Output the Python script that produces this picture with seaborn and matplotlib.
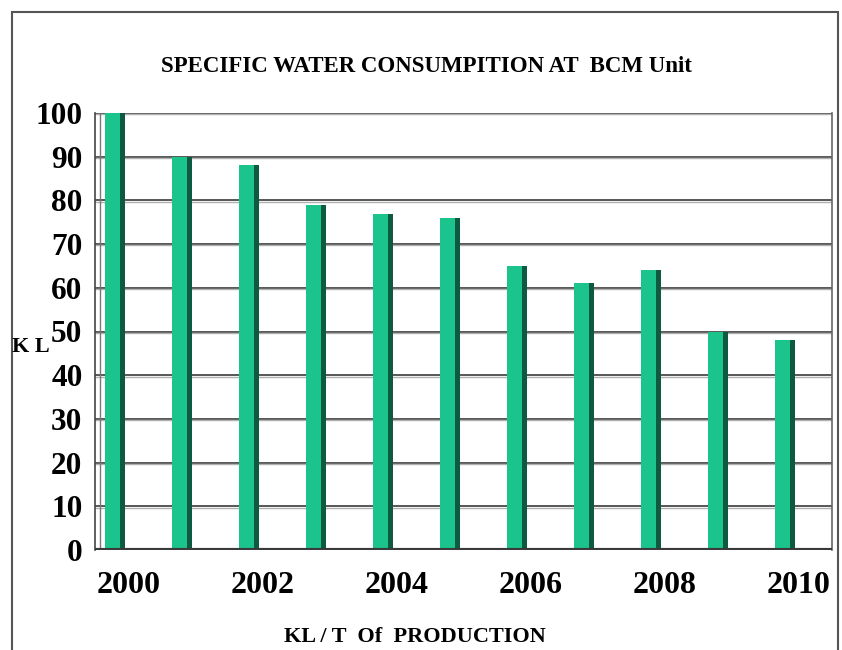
# Specific water consumption at BCM unit - bar chart in old Excel 3D style
import numpy as np
import pandas as pd
import matplotlib
matplotlib.use("Agg")
import matplotlib.pyplot as plt
from matplotlib.patches import Rectangle
import seaborn as sns

# data
years = ["2000", "2001", "2002", "2003", "2004", "2005",
         "2006", "2007", "2008", "2009", "2010"]
consumption = [100, 90, 88, 79, 77, 76, 65, 61, 64, 50, 48]
yticks = list(range(0, 101, 10))

df = pd.DataFrame({"year": years, "kl": consumption})

sns.set_style("white")
plt.rcParams['font.family'] = ['Liberation Serif', 'DejaVu Serif']
plt.rcParams['font.weight'] = 'bold'
plt.rcParams['text.color'] = 'black'

face = "#1cc48d"
side = "#0d5a40"

fig = plt.figure(figsize=(8.42, 6.5), dpi=100)
ax = fig.add_axes([95/842, 100/650, (832-95)/842, 437/650])

# dark side of the "3D" bars, then the lighter front face
sns.barplot(data=df, x="year", y="kl", order=years, color=side,
            width=0.30, saturation=1, linewidth=0, ax=ax)
n = len(ax.patches)
sns.barplot(data=df, x="year", y="kl", order=years, color=face,
            width=0.225, saturation=1, linewidth=0, ax=ax)
for p in ax.patches[n:]:
    p.set_x(p.get_x() - (0.30 - 0.225) / 2)
    p.set_zorder(3)
for p in ax.patches[:n]:
    p.set_zorder(3)

ax.set_xlim(-0.3, 10.7)
ax.set_ylim(0, 100)

# grid lines
for v in yticks[1:]:
    ax.axhline(v, color="#4a4a4a", lw=1.3, zorder=1)
    ax.axhline(v - 0.3, color="#b0b0b0", lw=1.0, zorder=1)
# floor
ax.axhline(0, color="#3a3a3a", lw=3, zorder=4)

ax.spines["top"].set_visible(False)
ax.spines["right"].set_color("#666666")
ax.spines["right"].set_linewidth(1.2)
ax.spines["left"].set_color("#444444")
ax.spines["left"].set_linewidth(1.2)
ax.spines["bottom"].set_visible(False)
ax.axvline(-0.3 + 0.07, color="#777777", lw=1.0, zorder=2)

ax.set_yticks(yticks)
ax.set_yticklabels([str(v) for v in yticks], fontsize=22.5, fontweight="bold")
ax.tick_params(axis="y", direction="out", length=7, width=1.2, color="#333333",
               labelcolor="black", pad=2)

major = [i + 0.2 for i in range(0, len(years), 2)]
ax.set_xticks(major)
ax.set_xticklabels(years[::2], fontsize=23, fontweight="bold")
ax.set_xticks([i - 0.3 for i in range(len(years) + 1)], minor=True)
ax.tick_params(axis="x", which="major", length=0, pad=15, labelcolor="black")
ax.tick_params(axis="x", which="minor", direction="out", length=6, width=1.2, color="#333333")
ax.set_xlabel("")
ax.set_ylabel("")

fig.text(0.506, 1 - 66/650, "SPECIFIC WATER CONSUMPITION AT  BCM Unit",
         ha="center", va="center", fontsize=16.5, fontweight="bold")
fig.text(12/842, 1 - 347/650, "K L", ha="left", va="center",
         fontsize=16, fontweight="bold")
fig.text(415/842, 1 - 637/650, "KL / T  Of  PRODUCTION", ha="center", va="center",
         fontsize=16, fontweight="bold")

fig.patches.append(Rectangle((12/842, -0.05), (838-12)/842, (650-12)/650 + 0.05,
                             transform=fig.transFigure, fill=False,
                             edgecolor="#555555", lw=1.5))

fig.savefig("out.png", dpi=100)
